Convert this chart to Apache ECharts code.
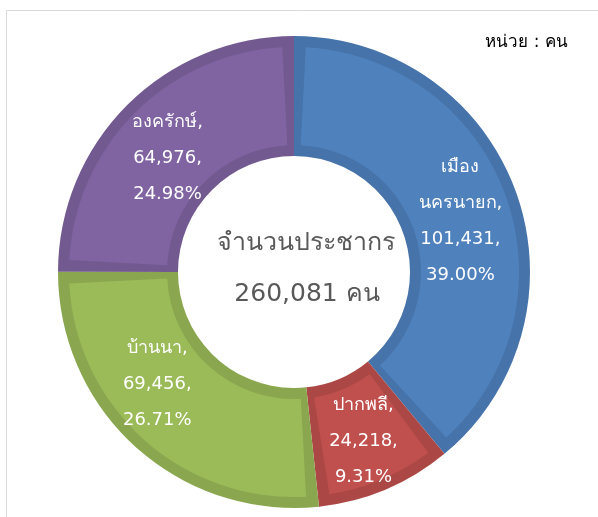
<!DOCTYPE html>
<html>
<head>
<meta charset="utf-8">
<script src="https://cdn.jsdelivr.net/npm/echarts@6/dist/echarts.min.js"></script>
<style>
html,body{margin:0;padding:0;background:#fff;}
#chart{width:598px;height:517px;}
</style>
</head>
<body>
<div id="chart"></div>
<script>
// Data
const categories = ['เมืองนครนายก', 'ปากพลี', 'บ้านนา', 'องครักษ์'];
const labelNames = ['เมือง\nนครนายก', 'ปากพลี', 'บ้านนา', 'องครักษ์'];
const values = [101431, 24218, 69456, 64976];
const centerTitle = 'จำนวนประชากร';
const centerTotal = '260,081 คน';
const unitText = 'หน่วย : คน';

// Styles
const lightColors = ['#4F81BD', '#C0504D', '#9BBB59', '#8064A2'];
const darkColors = ['#4673A9', '#AB4845', '#8AA74F', '#725A91'];
const labelShift = [[-2, 10], [0, 4], [-17, -21], [0, 13]];

const FONT = 'Tahoma, "DejaVu Sans", "Noto Sans", sans-serif';

const chart = echarts.init(document.getElementById('chart'), null, {renderer: 'canvas'});

const baseData = categories.map((c, i) => ({name: c, value: values[i], itemStyle: {color: darkColors[i]}}));
const topData = categories.map((c, i) => ({name: c, value: values[i], itemStyle: {color: lightColors[i]}}));

chart.setOption({
  animation: false,
  graphic: [
    {type: 'rect', silent: true, shape: {x: 6.5, y: 10.5, width: 700, height: 600},
     style: {fill: 'none', stroke: '#D9D9D9', lineWidth: 1}},
    {type: 'text', silent: true, x: 568, y: 43,
     style: {text: unitText, fill: '#000', font: '17px ' + FONT, align: 'right', verticalAlign: 'middle'}},
    {type: 'text', silent: true, x: 306, y: 243, z: 100,
     style: {text: centerTitle, fill: '#595959', font: '25px ' + FONT, align: 'center', verticalAlign: 'middle'}},
    {type: 'text', silent: true, x: 307, y: 294, z: 100,
     style: {text: centerTotal, fill: '#595959', font: '25px ' + FONT, align: 'center', verticalAlign: 'middle'}}
  ],
  series: [
    {
      type: 'pie', silent: true, center: [294, 272], radius: [116, 236],
      startAngle: 90, clockwise: true, avoidLabelOverlap: false,
      label: {show: false}, labelLine: {show: false},
      emphasis: {disabled: true},
      data: baseData
    },
    {
      type: 'pie', silent: true, center: [294, 272], radius: [127, 225],
      startAngle: 90, clockwise: true, padAngle: 6, avoidLabelOverlap: false,
      percentPrecision: 2,
      emphasis: {disabled: true},
      labelLine: {show: false},
      label: {
        show: true, position: 'inside', color: '#fff',
        fontSize: 18, lineHeight: 36, fontFamily: FONT,
        formatter: function (p) {
          return labelNames[p.dataIndex] + ',\n' + p.value.toLocaleString('en-US') + ',\n' + p.percent.toFixed(2) + '%';
        }
      },
      labelLayout: function (p) {
        const s = labelShift[p.dataIndex];
        return {dx: s[0], dy: s[1]};
      },
      data: topData
    }
  ]
});
</script>
</body>
</html>
